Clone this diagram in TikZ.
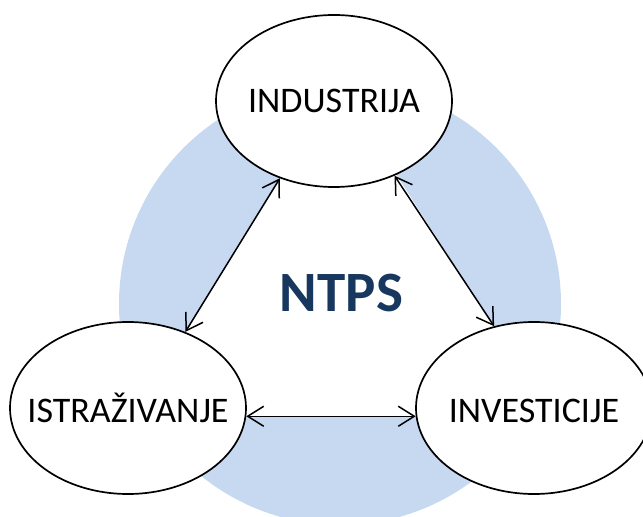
\documentclass[tikz,border=0pt]{standalone}
\usepackage{fontspec}
\setmainfont{Carlito}
\usetikzlibrary{arrows.meta,shapes.geometric}
\definecolor{ringblue}{HTML}{C6D9F1}
\definecolor{navy}{HTML}{17375E}
\begin{document}
\begin{tikzpicture}[x=1pt,y=1pt,
  bubble/.style={ellipse, draw=black, line width=1.7pt, fill=white,
    minimum width=236pt, minimum height=172pt, inner sep=0pt},
  word/.style={font=\fontsize{36}{40}\selectfont, inner sep=0pt, text depth=0pt},
  link/.style={line width=1.5pt,
    {Straight Barb[length=16pt,width=20pt]}-{Straight Barb[length=16pt,width=20pt]}}]
\useasboundingbox (0,0) rectangle (643,517);
% background disc with white triangle
\fill[ringblue] (340,213) circle[radius=221];
\fill[white] (339,432) -- (133,100) -- (551,100) -- cycle;
% centre title
\node[anchor=base, font=\bfseries\fontsize{57}{60}\selectfont, text=navy, inner sep=0pt] (title) at (341.5,205) {NTPS};
% bubbles
\node[bubble, label={[word, text height=23pt]center:INDUSTRIJA}] (ind) at (334,416) {};
\node[bubble, label={[word, text height=30pt]center:ISTRAŽIVANJE}] (ist) at (128,109) {};
\node[bubble, label={[word, text height=30pt]center:INVESTICIJE}] (inv) at (534,109) {};
% connectors
\draw[link] (ind.235.6) -- (ist.53);
\draw[link] (ind.309.5) -- (inv.116.8);
\draw[link] (ist.-4) -- (inv.184.3);
\end{tikzpicture}
\end{document}
